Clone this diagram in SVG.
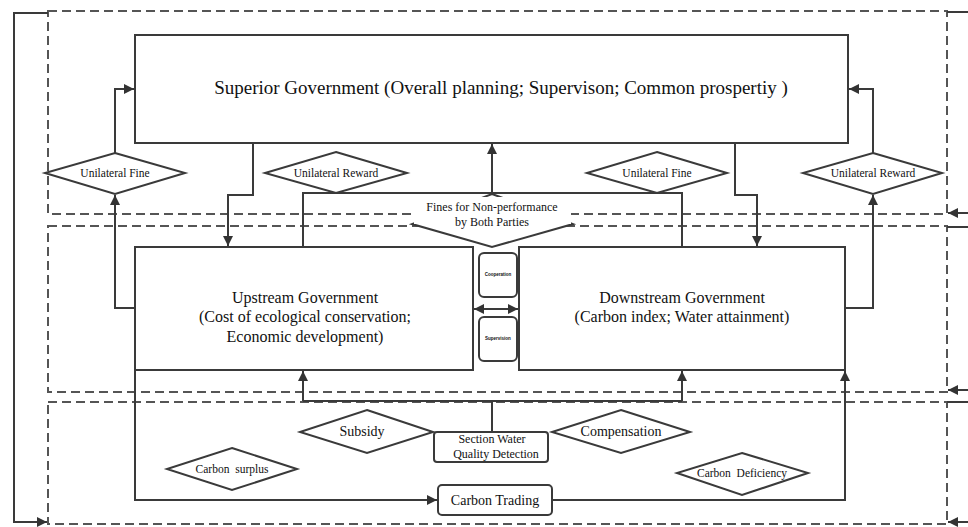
<svg xmlns="http://www.w3.org/2000/svg" width="968" height="527" viewBox="0 0 968 527">
<style>
.dash{fill:none;stroke:#555;stroke-width:2;stroke-dasharray:9,5}
.ln{fill:none;stroke:#3a3a3a;stroke-width:2}
.box{fill:#fff;stroke:#3a3a3a;stroke-width:2}
.dia{fill:#fff;stroke:#3a3a3a;stroke-width:2}
.tx{font-family:'Liberation Serif','DejaVu Serif',serif;fill:#111;text-anchor:middle}
.t18{font-size:19px}
.t16{font-size:16px}
.t14{font-size:14px}
.t12{font-size:12px}
.t11{font-size:11.5px}
.tiny{font-family:'Liberation Sans',sans-serif;font-size:4.5px;font-weight:bold;fill:#111;text-anchor:middle}
</style>
<defs>
<marker id="ar" viewBox="0 0 10 10" refX="10" refY="5" markerWidth="12" markerHeight="10" markerUnits="userSpaceOnUse" orient="auto-start-reverse">
<path d="M0,0 L10,5 L0,10 z" fill="#333"/>
</marker>
</defs>
<g id="regions">
<rect class="dash" x="48" y="11" width="899" height="203"/>
<rect class="dash" x="48" y="226" width="899" height="166"/>
<rect class="dash" x="48" y="402" width="899" height="122"/>
</g>
<g id="connectors">
<path class="ln" d="M135,308 H115 V195" marker-end="url(#ar)"/>
<path class="ln" d="M115,153 V89 H134" marker-end="url(#ar)"/>
<path class="ln" d="M845,308 H873 V195" marker-end="url(#ar)"/>
<path class="ln" d="M873,153 V89 H849" marker-end="url(#ar)"/>
<path class="ln" d="M253,143 V195 H228 V246" marker-end="url(#ar)"/>
<path class="ln" d="M735,143 V195 H757 V246" marker-end="url(#ar)"/>
<path class="ln" d="M303,247 V193 H682 V247"/>
<path class="ln" d="M492,193 V144" marker-end="url(#ar)"/>
<path class="ln" d="M474,309 H518" marker-start="url(#ar)" marker-end="url(#ar)"/>
<path class="ln" d="M303,401 H682 M492,432 V401"/>
<path class="ln" d="M303,401 V371" marker-end="url(#ar)"/>
<path class="ln" d="M682,401 V371" marker-end="url(#ar)"/>
<path class="ln" d="M135,369 V500 H437" marker-end="url(#ar)"/>
<path class="ln" d="M552,500 H845 V371" marker-end="url(#ar)"/>
<path class="ln" d="M48,13 H14 V522 H47" marker-end="url(#ar)"/>
<path class="ln" d="M947,12 H968 M947,227 H968 M947,402 H968"/>
<path class="ln" d="M968,213 H948" marker-end="url(#ar)"/>
<path class="ln" d="M968,390 H948" marker-end="url(#ar)"/>
<path class="ln" d="M968,522 H948" marker-end="url(#ar)"/>
</g>
<g id="superior">
<rect class="box" x="135" y="35" width="713" height="108"/>
<text class="tx t18" x="501" y="94" font-family="Liberation Serif, serif">Superior Government (Overall planning; Supervison; Common prospertiy  )</text>
</g>
<g id="upstream">
<rect class="box" x="135" y="247" width="338" height="123"/>
<text class="tx t16" x="305" y="303">Upstream Government</text>
<text class="tx t16" x="305" y="322">(Cost of ecological conservation;</text>
<text class="tx t16" x="305" y="342">Economic development)</text>
</g>
<g id="downstream">
<rect class="box" x="519" y="247" width="326" height="123"/>
<text class="tx t16" x="682" y="303">Downstream Government</text>
<text class="tx t16" x="682" y="322">(Carbon index; Water attainment)</text>
</g>
<g id="cooperation">
<rect class="box" x="479" y="253" width="38" height="44" rx="5"/>
<text class="tiny" x="498" y="276">Cooperation</text>
</g>
<g id="supervision">
<rect class="box" x="479" y="317" width="38" height="44" rx="5"/>
<text class="tiny" x="498" y="340">Supervision</text>
</g>
<g id="fine-left">
<polygon class="dia" points="115,153 185,173 115,194 45,173"/>
<text class="tx t11" x="115" y="177">Unilateral Fine</text>
</g>
<g id="reward-right">
<polygon class="dia" points="873,153 942,173 873,194 803,173"/>
<text class="tx t11" x="873" y="177">Unilateral Reward</text>
</g>
<g id="reward-mid">
<polygon class="dia" points="336,152 407,173 336,193 265,173"/>
<text class="tx t11" x="336" y="177">Unilateral Reward</text>
</g>
<g id="fine-mid">
<polygon class="dia" points="657,152 727,173 657,193 587,173"/>
<text class="tx t11" x="657" y="177">Unilateral Fine</text>
</g>
<g id="fines-both">
<polygon class="dia" points="492,194 573,224 492,247 412,224"/>
<rect x="414" y="197" width="157" height="27" fill="#fff"/>
<text class="tx t12" x="492" y="211">Fines for Non-performance</text>
<text class="tx t12" x="492" y="226">by Both Parties</text>
</g>
<g id="subsidy">
<polygon class="dia" points="367,410 433,432 367,453 300,432"/>
<text class="tx t14" x="362" y="436">Subsidy</text>
</g>
<g id="compensation">
<polygon class="dia" points="621,410 690,432 621,453 552,432"/>
<text class="tx t14" x="621" y="436">Compensation</text>
</g>
<g id="water-detection">
<rect class="box" x="434" y="432" width="114" height="30" rx="3"/>
<text class="tx t12" x="492" y="443">Section Water</text>
<text class="tx t12" x="496" y="458">Quality Detection</text>
</g>
<g id="carbon-surplus">
<polygon class="dia" points="232,448 297,469 232,490 167,469"/>
<text class="tx t11" x="232" y="473" xml:space="preserve">Carbon  surplus</text>
</g>
<g id="carbon-deficiency">
<polygon class="dia" points="742,453 808,473 742,495 677,473"/>
<text class="tx t11" x="742" y="477" xml:space="preserve">Carbon  Deficiency</text>
</g>
<g id="carbon-trading">
<rect class="box" x="438" y="485" width="114" height="30" rx="4"/>
<text class="tx t14" x="495" y="505">Carbon Trading</text>
</g>
</svg>
